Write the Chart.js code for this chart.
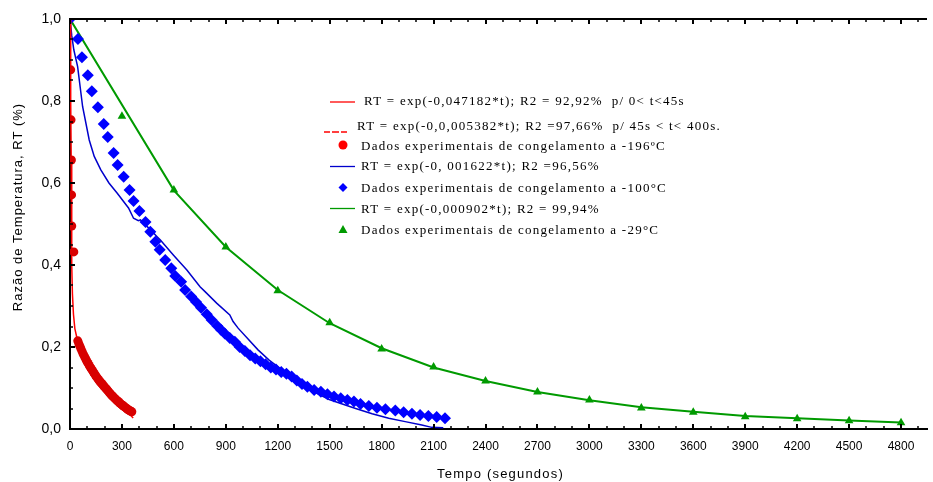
<!DOCTYPE html>
<html>
<head>
<meta charset="utf-8">
<script src="https://cdn.jsdelivr.net/npm/chart.js@4.4.0/dist/chart.umd.min.js"></script>
<style>
  html, body { margin: 0; padding: 0; background: #fff; }
  #wrap { width: 933px; height: 482px; }
</style>
</head>
<body>
<div id="wrap"><canvas id="rtChart" width="933" height="482"></canvas></div>
<script>
// -196 C: experimental points and fitted curve
const redTime = [4, 6, 8, 9, 10, 22,
  45, 51, 57, 63, 69, 75, 81, 87, 93, 99, 105, 111, 117, 123, 129, 135, 141, 147, 153, 159,
  165, 171, 177, 183, 189, 195, 201, 207, 213, 219, 225, 231, 237, 243, 249, 255, 261, 267,
  273, 279, 285, 291, 297, 303, 309, 315, 321, 327, 333, 339, 345, 351, 357];
const redRT = [0.876, 0.754, 0.656, 0.571, 0.495, 0.432,
  0.215, 0.208, 0.202, 0.196, 0.190, 0.184, 0.179, 0.174, 0.169, 0.164, 0.160, 0.155, 0.151, 0.147, 0.143, 0.139, 0.135, 0.131, 0.127, 0.124,
  0.120, 0.117, 0.114, 0.111, 0.108, 0.105, 0.102, 0.099, 0.096, 0.093, 0.090, 0.087, 0.084, 0.081, 0.079, 0.076, 0.074, 0.071,
  0.069, 0.067, 0.064, 0.062, 0.060, 0.058, 0.056, 0.054, 0.052, 0.050, 0.048, 0.046, 0.045, 0.043, 0.042];
const redFitTime = [0, 3, 5, 7, 9, 11, 14, 20, 28, 40, 50, 100, 150, 200, 250, 300, 340, 365];
const redFitRT = [1.0, 0.90, 0.80, 0.65, 0.50, 0.40, 0.33, 0.28, 0.245, 0.222, 0.205, 0.16, 0.125, 0.10, 0.078, 0.055, 0.038, 0.027];

// -100 C
const blueTime = [0, 46, 69, 103, 126, 161, 195, 218, 252, 275, 310, 344, 367, 401, 436, 464, 493, 518, 550, 585,
  608, 642, 665, 700, 728, 757, 790, 818, 851, 872, 894, 923, 952, 980, 1010, 1040, 1070, 1100, 1130, 1160,
  1190, 1220, 1250, 1280, 1310, 1340, 1371, 1410, 1449, 1487, 1525, 1564, 1602, 1640, 1678, 1726, 1773, 1822,
  1879, 1927, 1975, 2022, 2070, 2118, 2166];
const blueRT = [1.0, 0.951, 0.907, 0.863, 0.824, 0.785, 0.744, 0.712, 0.673, 0.644, 0.615, 0.583, 0.556, 0.532, 0.505, 0.481, 0.457, 0.437, 0.412, 0.392,
  0.373, 0.359, 0.339, 0.323, 0.310, 0.296, 0.280, 0.266, 0.251, 0.242, 0.233, 0.222, 0.213, 0.200, 0.190, 0.180, 0.172, 0.165, 0.158, 0.150,
  0.145, 0.139, 0.135, 0.128, 0.118, 0.110, 0.103, 0.095, 0.091, 0.085, 0.079, 0.075, 0.071, 0.067, 0.061, 0.056, 0.052, 0.048,
  0.045, 0.041, 0.037, 0.034, 0.032, 0.029, 0.026];
const blueFitTime = [0, 10, 22, 44, 73, 111, 140, 178, 225, 273, 338, 367, 395, 407, 455, 503, 522, 598, 675, 751,
  780, 847, 923, 942, 971, 1086, 1150, 1267, 1350, 1420, 1497, 1573, 1650, 1745, 1841, 1936, 2032, 2089, 2156];
const blueFitRT = [1.0, 0.96, 0.925, 0.884, 0.786, 0.705, 0.665, 0.632, 0.600, 0.575, 0.539, 0.514, 0.508, 0.510, 0.490, 0.469, 0.461, 0.424, 0.388, 0.347,
  0.335, 0.307, 0.278, 0.262, 0.246, 0.193, 0.168, 0.130, 0.105, 0.088, 0.072, 0.061, 0.050, 0.037, 0.026, 0.018, 0.010, 0.004, 0.003];

// -29 C
const greenTime = [300, 600, 900, 1200, 1500, 1800, 2100, 2400, 2700, 3000, 3300, 3600, 3900, 4200, 4500, 4800];
const greenRT = [0.763, 0.583, 0.444, 0.337, 0.259, 0.195, 0.151, 0.117, 0.090, 0.071, 0.051, 0.041, 0.030, 0.025, 0.020, 0.015];
const greenFitTime = [0, 600, 900, 1200, 1500, 1800, 2100, 2400, 2700, 3000, 3300, 3600, 3900, 4200, 4500, 4800];
const greenFitRT = [1.0, 0.582, 0.444, 0.339, 0.258, 0.197, 0.150, 0.117, 0.090, 0.070, 0.053, 0.042, 0.032, 0.026, 0.021, 0.016];

const legendTexts = [
  'RT = exp(-0,047182*t); R2 = 92,92%  p/ 0< t<45s',
  'RT = exp(-0,0,005382*t); R2 =97,66%  p/ 45s < t< 400s.',
  'Dados experimentais de congelamento a -196ºC',
  'RT = exp(-0, 001622*t); R2 =96,56%',
  'Dados experimentais de congelamento a -100°C',
  'RT = exp(-0,000902*t); R2 = 99,94%',
  'Dados experimentais de congelamento a -29°C'
];

const pts = (xs, ys) => xs.map((x, i) => ({ x: x, y: ys[i] }));

const RED = '#ff0000', RED_DOT = '#d80000', BLUE = '#0000ff', BLUE_LINE = '#0000cc', GREEN = '#009a00';

// frame, inward ticks, axis titles and the in-plot legend
const decorations = {
  id: 'decorations',
  afterDatasetsDraw(chart) {
    const ctx = chart.ctx;
    const a = chart.chartArea;
    const xs = chart.scales.x, ys = chart.scales.y;
    ctx.save();
    ctx.strokeStyle = '#000';
    ctx.lineWidth = 2;
    ctx.beginPath();
    ctx.moveTo(a.left - 1, a.top);
    ctx.lineTo(a.right, a.top);
    ctx.stroke();

    for (let v = 0; v <= xs.max; v += 100) {
      const px = Math.round(xs.getPixelForValue(v));
      const major = v % 300 === 0;
      const len = major ? 5 : 3;
      ctx.lineWidth = major ? 2 : 1.5;
      ctx.beginPath();
      ctx.moveTo(px, a.bottom); ctx.lineTo(px, a.bottom - len);
      ctx.moveTo(px, a.top); ctx.lineTo(px, a.top + len);
      ctx.stroke();
    }
    for (let i = 0; i <= 20; i++) {
      const py = Math.round(ys.getPixelForValue(i * 0.05));
      const major = i % 4 === 0;
      ctx.lineWidth = major ? 2 : 1.5;
      ctx.beginPath();
      ctx.moveTo(a.left, py); ctx.lineTo(a.left + (major ? 5 : 3), py);
      ctx.stroke();
    }

    ctx.fillStyle = '#000';
    ctx.font = '13px "Liberation Sans", Arial, sans-serif';
    ctx.letterSpacing = '1.2px';
    ctx.textAlign = 'center';
    ctx.textBaseline = 'middle';
    ctx.fillText('Tempo (segundos)', (a.left + a.right) / 2 + 2, 474);
    ctx.save();
    ctx.translate(18, 207);
    ctx.rotate(-Math.PI / 2);
    ctx.letterSpacing = '1px';
    ctx.fillText('Razão de Temperatura, RT (%)', 0, 0);
    ctx.restore();

    // legend
    const rowsY = [102, 127, 147, 166.5, 188.5, 210, 231];
    const textX = [364, 357, 361, 361, 361, 361, 361];
    ctx.lineWidth = 1.3;
    ctx.strokeStyle = RED;
    ctx.beginPath(); ctx.moveTo(330, rowsY[0]); ctx.lineTo(355, rowsY[0]); ctx.stroke();
    ctx.beginPath();
    [[324, 330], [332, 339], [341, 347]].forEach(s => { ctx.moveTo(s[0], 132); ctx.lineTo(s[1], 132); });
    ctx.stroke();
    ctx.fillStyle = RED;
    ctx.beginPath(); ctx.arc(343, 145, 4.5, 0, Math.PI * 2); ctx.fill();
    ctx.strokeStyle = BLUE_LINE;
    ctx.beginPath(); ctx.moveTo(330, rowsY[3]); ctx.lineTo(355, rowsY[3]); ctx.stroke();
    ctx.fillStyle = BLUE;
    ctx.beginPath();
    ctx.moveTo(343, 183); ctx.lineTo(347.5, 187.5); ctx.lineTo(343, 192); ctx.lineTo(338.5, 187.5);
    ctx.closePath(); ctx.fill();
    ctx.strokeStyle = GREEN;
    ctx.beginPath(); ctx.moveTo(330, 208.5); ctx.lineTo(355, 208.5); ctx.stroke();
    ctx.fillStyle = GREEN;
    ctx.beginPath();
    ctx.moveTo(343, 225); ctx.lineTo(347.5, 233); ctx.lineTo(338.5, 233);
    ctx.closePath(); ctx.fill();

    ctx.fillStyle = '#000';
    ctx.font = '13px "Liberation Serif", "Times New Roman", serif';
    ctx.letterSpacing = '1.25px';
    ctx.textAlign = 'left';
    legendTexts.forEach((t, i) => ctx.fillText(t, textX[i], rowsY[i]));
    ctx.restore();
  }
};

const ctx = document.getElementById('rtChart').getContext('2d');
const rtChart = new Chart(ctx, {
  type: 'scatter',
  data: {
    datasets: [
      { label: 'red dots', data: pts(redTime, redRT), backgroundColor: RED_DOT, borderWidth: 0, pointRadius: 4.5, pointStyle: 'circle' },
      { label: 'red fit', data: pts(redFitTime, redFitRT), showLine: true, borderColor: RED, borderWidth: 1.5, pointRadius: 0 },
      { label: 'blue dots', data: pts(blueTime, blueRT), backgroundColor: BLUE, borderWidth: 0, pointRadius: 6, pointStyle: 'rectRot' },
      { label: 'blue fit', data: pts(blueFitTime, blueFitRT), showLine: true, borderColor: BLUE_LINE, borderWidth: 1.5, pointRadius: 0 },
      { label: 'green dots', data: pts(greenTime, greenRT), backgroundColor: GREEN, borderWidth: 0, pointRadius: 5, pointStyle: 'triangle' },
      { label: 'green fit', data: pts(greenFitTime, greenFitRT), showLine: true, borderColor: GREEN, borderWidth: 2, pointRadius: 0 }
    ]
  },
  options: {
    responsive: false,
    animation: false,
    devicePixelRatio: 1,
    layout: { padding: { top: 19, right: 1, left: 0, bottom: 0 } },
    plugins: { legend: { display: false }, tooltip: { enabled: false } },
    scales: {
      x: {
        type: 'linear', min: 0, max: 4950,
        grid: { display: false, drawTicks: false },
        border: { display: true, color: '#000', width: 2 },
        ticks: {
          stepSize: 300, includeBounds: false, padding: 10, maxRotation: 0, autoSkip: false,
          color: '#000', font: { family: '"Liberation Sans", Arial, sans-serif', size: 12 },
          callback: v => String(v)
        },
        afterFit: s => { s.height = 53; }
      },
      y: {
        type: 'linear', min: 0, max: 1,
        grid: { display: false, drawTicks: false },
        border: { display: true, color: '#000', width: 2 },
        ticks: {
          stepSize: 0.2, padding: 9, color: '#000',
          font: { family: '"Liberation Sans", Arial, sans-serif', size: 14 },
          callback: v => v.toFixed(1).replace('.', ',')
        },
        afterFit: s => { s.width = 70; }
      }
    }
  },
  plugins: [decorations]
});
</script>
</body>
</html>
